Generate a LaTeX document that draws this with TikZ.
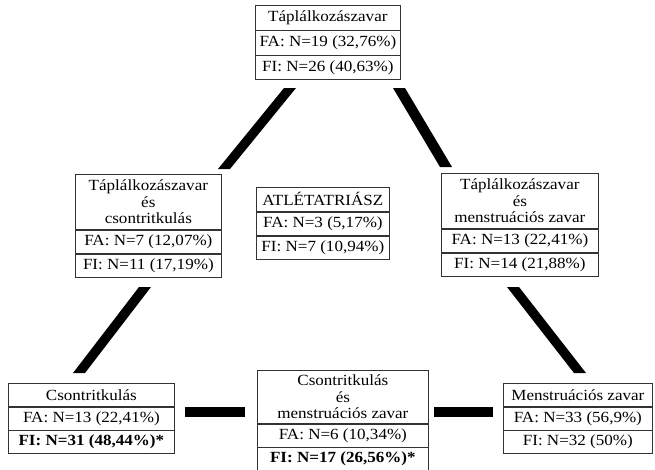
\documentclass[tikz,border=0pt]{standalone}
\usepackage{fontspec}
\setmainfont{Liberation Serif}[FakeStretch=1.1]
\usetikzlibrary{calc}
\newcommand\cellfont{\fontsize{15.5}{16.5}\selectfont}
\newcommand\thickconn[2]{\fill[black] ($(#1)+(-6,0)$) -- ($(#1)+(6,0)$) -- ($(#2)+(6,0)$) -- ($(#2)+(-6,0)$) -- cycle;}
\tikzset{
  cell/.style={draw=black!80, line width=0.7pt, inner sep=0pt, anchor=north west,
    align=center, font=\cellfont, text=black},
}
\begin{document}
\begin{tikzpicture}[x=1pt,y=-1pt]
\useasboundingbox (0,0) rectangle (655,469);
% top box
\node[cell, minimum width=145pt, minimum height=24.5pt] (t0) at (255,5) {Táplálkozászavar};
\node[cell, minimum width=145pt, minimum height=24.5pt] (t1) at (t0.south west) {FA: N=19 (32,76\%)};
\node[cell, minimum width=145pt, minimum height=24pt] (t2) at (t1.south west) {FI: N=26 (40,63\%)};
% left middle
\node[cell, minimum width=146pt, minimum height=55pt] (l0) at (75,174) {Táplálkozászavar\\és\\csontritkulás};
\node[cell, minimum width=146pt, minimum height=23.5pt] (l1) at (l0.south west) {FA: N=7 (12,07\%)};
\node[cell, minimum width=146pt, minimum height=23.5pt] (l2) at (l1.south west) {FI: N=11 (17,19\%)};
% centre
\node[cell, minimum width=133pt, minimum height=24pt] (a0) at (256,187) {ATLÉTATRIÁSZ};
\node[cell, minimum width=133pt, minimum height=23.5pt] (a1) at (a0.south west) {FA: N=3 (5,17\%)};
\node[cell, minimum width=133pt, minimum height=23.5pt] (a2) at (a1.south west) {FI: N=7 (10,94\%)};
% right middle
\node[cell, minimum width=157pt, minimum height=55pt] (r0) at (441,173) {Táplálkozászavar\\és\\menstruációs zavar};
\node[cell, minimum width=157pt, minimum height=23.5pt] (r1) at (r0.south west) {FA: N=13 (22,41\%)};
\node[cell, minimum width=157pt, minimum height=23.5pt] (r2) at (r1.south west) {FI: N=14 (21,88\%)};
% bottom left
\node[cell, minimum width=166pt, minimum height=23pt] (bl0) at (8,383) {Csontritkulás};
\node[cell, minimum width=166pt, minimum height=23pt] (bl1) at (bl0.south west) {FA: N=13 (22,41\%)};
\node[cell, minimum width=166pt, minimum height=23pt] (bl2) at (bl1.south west) {\bfseries FI: N=31 (48,44\%)*};
% bottom middle
\node[cell, minimum width=171pt, minimum height=53pt] (bm0) at (257,370) {Csontritkulás\\és\\menstruációs zavar};
\node[cell, minimum width=171pt, minimum height=23pt] (bm1) at (bm0.south west) {FA: N=6 (10,34\%)};
\node[cell, minimum width=171pt, minimum height=23pt] (bm2) at (bm1.south west) {\bfseries FI: N=17 (26,56\%)*};
% bottom right
\node[cell, minimum width=149pt, minimum height=23pt] (br0) at (503,383) {Menstruációs zavar};
\node[cell, minimum width=149pt, minimum height=23pt] (br1) at (br0.south west) {FA: N=33 (56,9\%)};
\node[cell, minimum width=149pt, minimum height=23pt] (br2) at (br1.south west) {FI: N=32 (50\%)};
% connector end points
\coordinate (tlA) at (290,88);  \coordinate (tlB) at (224,169);
\coordinate (trA) at (399,88);  \coordinate (trB) at (446,167);
\coordinate (blA) at (145,287); \coordinate (blB) at (79,373);
\coordinate (brA) at (513,287); \coordinate (brB) at (580,373);
\thickconn{tlA}{tlB}
\thickconn{trA}{trB}
\thickconn{blA}{blB}
\thickconn{brA}{brB}
\coordinate (hlA) at (185,407); \coordinate (hlB) at (245,417);
\coordinate (hrA) at (434,407); \coordinate (hrB) at (493,417);
\fill[black] (hlA) rectangle (hlB);
\fill[black] (hrA) rectangle (hrB);
\end{tikzpicture}
\end{document}
